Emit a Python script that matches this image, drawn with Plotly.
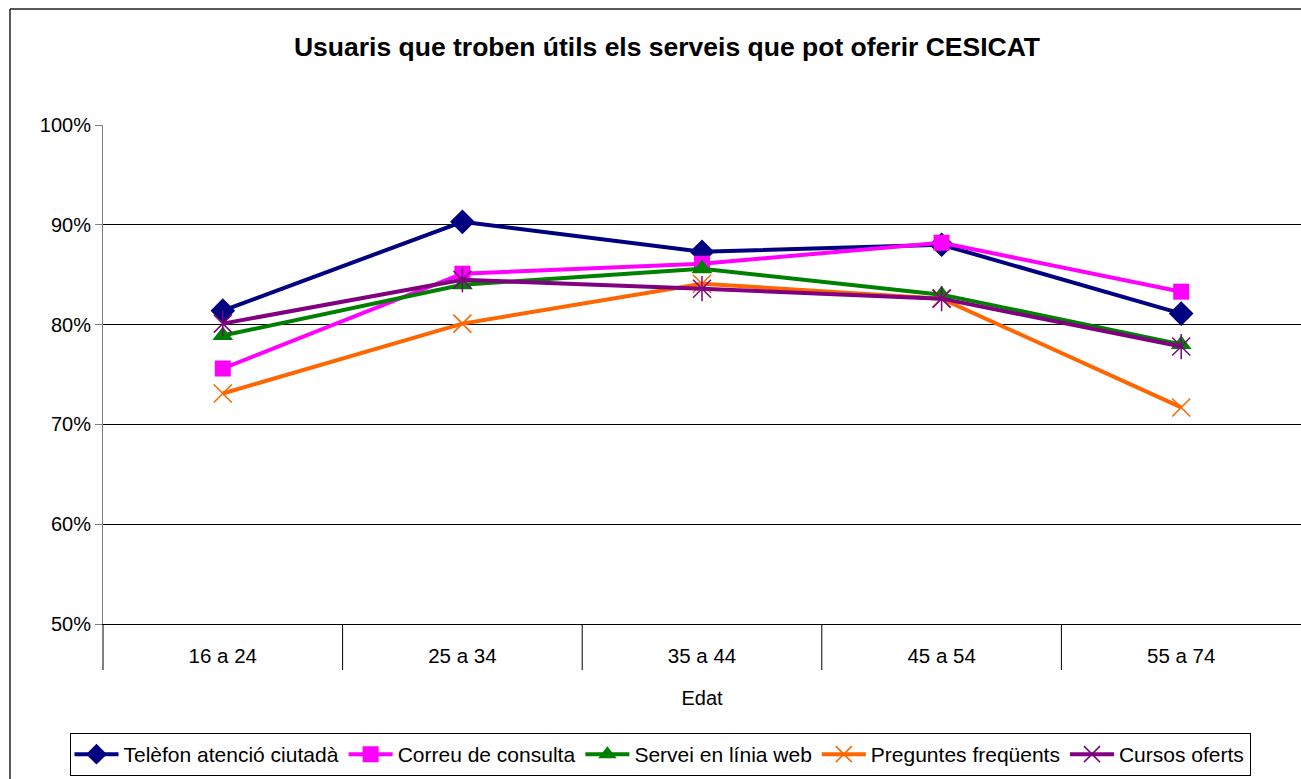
import plotly.graph_objects as go

categories = ["16 a 24", "25 a 34", "35 a 44", "45 a 54", "55 a 74"]
telefon = [0.814, 0.903, 0.873, 0.880, 0.811]
correu = [0.756, 0.851, 0.861, 0.882, 0.833]
servei = [0.789, 0.840, 0.856, 0.830, 0.780]
preguntes = [0.731, 0.801, 0.841, 0.826, 0.717]
cursos = [0.801, 0.845, 0.836, 0.826, 0.778]

series_names = ["Telèfon atenció ciutadà", "Correu de consulta", "Servei en línia web",
                "Preguntes freqüents", "Cursos oferts"]
y_ticks = [0.5, 0.6, 0.7, 0.8, 0.9, 1.0]

FONT = "Liberation Sans, Arial, sans-serif"
W, H = 1301, 779
L, R, T, B = 103, 0, 125, H - 624
PW, PH = W - L - R, H - T - B

fig = go.Figure()

styles = [
    dict(color="#000080", symbol="diamond", size=19, lw=0),
    dict(color="#FF00FF", symbol="square", size=16, lw=0),
    dict(color="#008000", symbol="triangle-up", size=18, lw=0),
    dict(color="#FF6600", symbol="x-thin-open", size=18, lw=1.5),
    dict(color="#800080", symbol="x-thin-open", size=18, lw=1.5),
]
data = [telefon, correu, servei, preguntes, cursos]

for name, vals, st in zip(series_names, data, styles):
    fig.add_trace(go.Scatter(
        x=categories, y=vals, name=name, mode="lines+markers",
        line=dict(color=st["color"], width=4),
        marker=dict(symbol=st["symbol"], size=st["size"], color=st["color"],
                    line=dict(color=st["color"], width=st["lw"])),
        legendgroup=name,
    ))
    if name == "Cursos oferts":
        fig.add_trace(go.Scatter(
            x=categories, y=vals, mode="markers", showlegend=False, legendgroup=name,
            marker=dict(symbol="line-ns-open", size=18, color=st["color"],
                        line=dict(color=st["color"], width=1.5)),
            hoverinfo="skip",
        ))

shapes = []
# category divider ticks below the axis
for i in range(1, len(categories)):
    shapes.append(dict(type="line", xref="x", yref="paper", x0=i - 0.5, x1=i - 0.5,
                       y0=0, y1=-46 / PH, line=dict(color="black", width=1)))
shapes.append(dict(type="line", xref="paper", yref="paper", x0=0, x1=0,
                   y0=0, y1=-46 / PH, line=dict(color="black", width=1)))
# outer chart border (left and top edges visible)
shapes.append(dict(type="line", xref="paper", yref="paper",
                   x0=(10 - L) / PW, x1=(10 - L) / PW,
                   y0=(T + PH - (H + 20)) / PH, y1=(T + PH - 9) / PH,
                   line=dict(color="#222222", width=1.5)))
shapes.append(dict(type="line", xref="paper", yref="paper",
                   x0=(10 - L) / PW, x1=(W + 20 - L) / PW,
                   y0=(T + PH - 9) / PH, y1=(T + PH - 9) / PH,
                   line=dict(color="#222222", width=1.5)))

fig.update_layout(
    width=W, height=H,
    margin=dict(l=L, r=R, t=T, b=B),
    paper_bgcolor="white", plot_bgcolor="white",
    font=dict(family=FONT, size=20, color="black"),
    title=dict(text="<b>Usuaris que troben útils els serveis que pot oferir CESICAT</b>",
               x=(667 - L) / PW, xref="paper", xanchor="center",
               y=1 - 47 / H, yanchor="middle", font=dict(size=26.5, family=FONT)),
    showlegend=True,
    legend=dict(orientation="h", x=(660 - L) / PW, xanchor="center",
                y=-(733 - T - PH) / PH, yanchor="top",
                bordercolor="black", borderwidth=1, bgcolor="white",
                font=dict(size=21, family=FONT), itemwidth=44, tracegroupgap=0),
    shapes=shapes,
    xaxis=dict(type="category", range=[-0.5, len(categories) - 0.5],
               showline=True, linecolor="black", linewidth=1,
               ticks="", ticklabelstandoff=13, showgrid=False,
               tickfont=dict(size=20.5),
               title=dict(text="Edat", font=dict(size=20), standoff=25)),
    yaxis=dict(range=[0.5, 1.0], tickvals=y_ticks, tickformat=".0%",
               showgrid=True, gridcolor="black", gridwidth=1,
               showline=True, linecolor="#808080", linewidth=1,
               ticks="outside", ticklen=7, tickcolor="#808080",
               tickfont=dict(size=20), zeroline=False),
)

fig.write_html("out.html", config={"displayModeBar": False},
               post_script="document.body.style.margin='0';document.body.style.overflow='hidden';")
